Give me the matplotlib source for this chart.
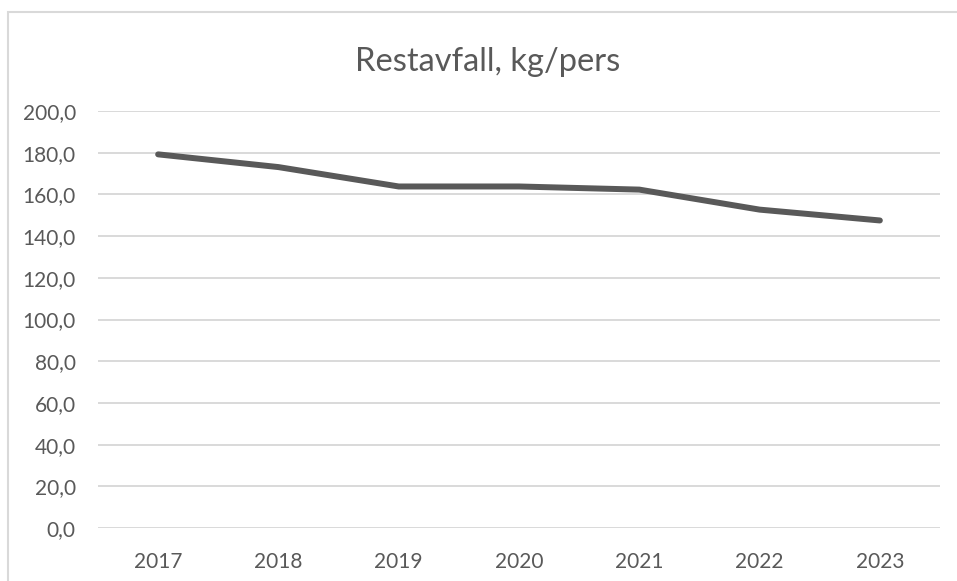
import matplotlib
matplotlib.use("Agg")
from matplotlib import pyplot as plt
from matplotlib.patches import Rectangle

years = ["2017", "2018", "2019", "2020", "2021", "2022", "2023"]
restavfall = [179.2, 173.1, 163.8, 163.8, 162.3, 152.7, 147.5]
y_ticks = [0, 20, 40, 60, 80, 100, 120, 140, 160, 180, 200]
y_labels = ["0,0", "20,0", "40,0", "60,0", "80,0", "100,0", "120,0", "140,0", "160,0", "180,0", "200,0"]

text_col = "#595959"
grid_col = "#d9d9d9"

plt.rcParams['font.family'] = ['Lato', 'DejaVu Sans']

fig = plt.figure(figsize=(9.57, 5.81), dpi=100)
fig.patch.set_facecolor("white")

# chart area border, like excel
fig.patches.append(Rectangle((8/957, -0.05), 1.2, 1 - 12/581 + 0.05,
                             transform=fig.transFigure, fill=False,
                             edgecolor=grid_col, linewidth=1.5))

ax = fig.add_axes([98/957, 1 - 528/581, 842/957, (528 - 111)/581])
x = list(range(len(years)))
ax.plot(x, restavfall, color=text_col, linewidth=4.3, solid_capstyle="round", solid_joinstyle="round", zorder=3)

ax.set_xlim(-0.5, len(years) - 0.5)
ax.set_ylim(0, 200)
ax.set_yticks(y_ticks)
ax.set_yticklabels(y_labels)
ax.set_xticks(x)
ax.set_xticklabels(years)
ax.grid(axis="y", color=grid_col, linewidth=1.4)
ax.set_axisbelow(True)
for s in ax.spines.values():
    s.set_visible(False)
ax.tick_params(axis="both", length=0, labelsize=15, labelcolor=text_col)
ax.tick_params(axis="y", pad=16)
ax.tick_params(axis="x", pad=17)

fig.text(0.51, 1 - 62/581, "Restavfall, kg/pers", ha="center", va="center",
         fontsize=23.5, color=text_col)

fig.savefig("out.png", dpi=100)
